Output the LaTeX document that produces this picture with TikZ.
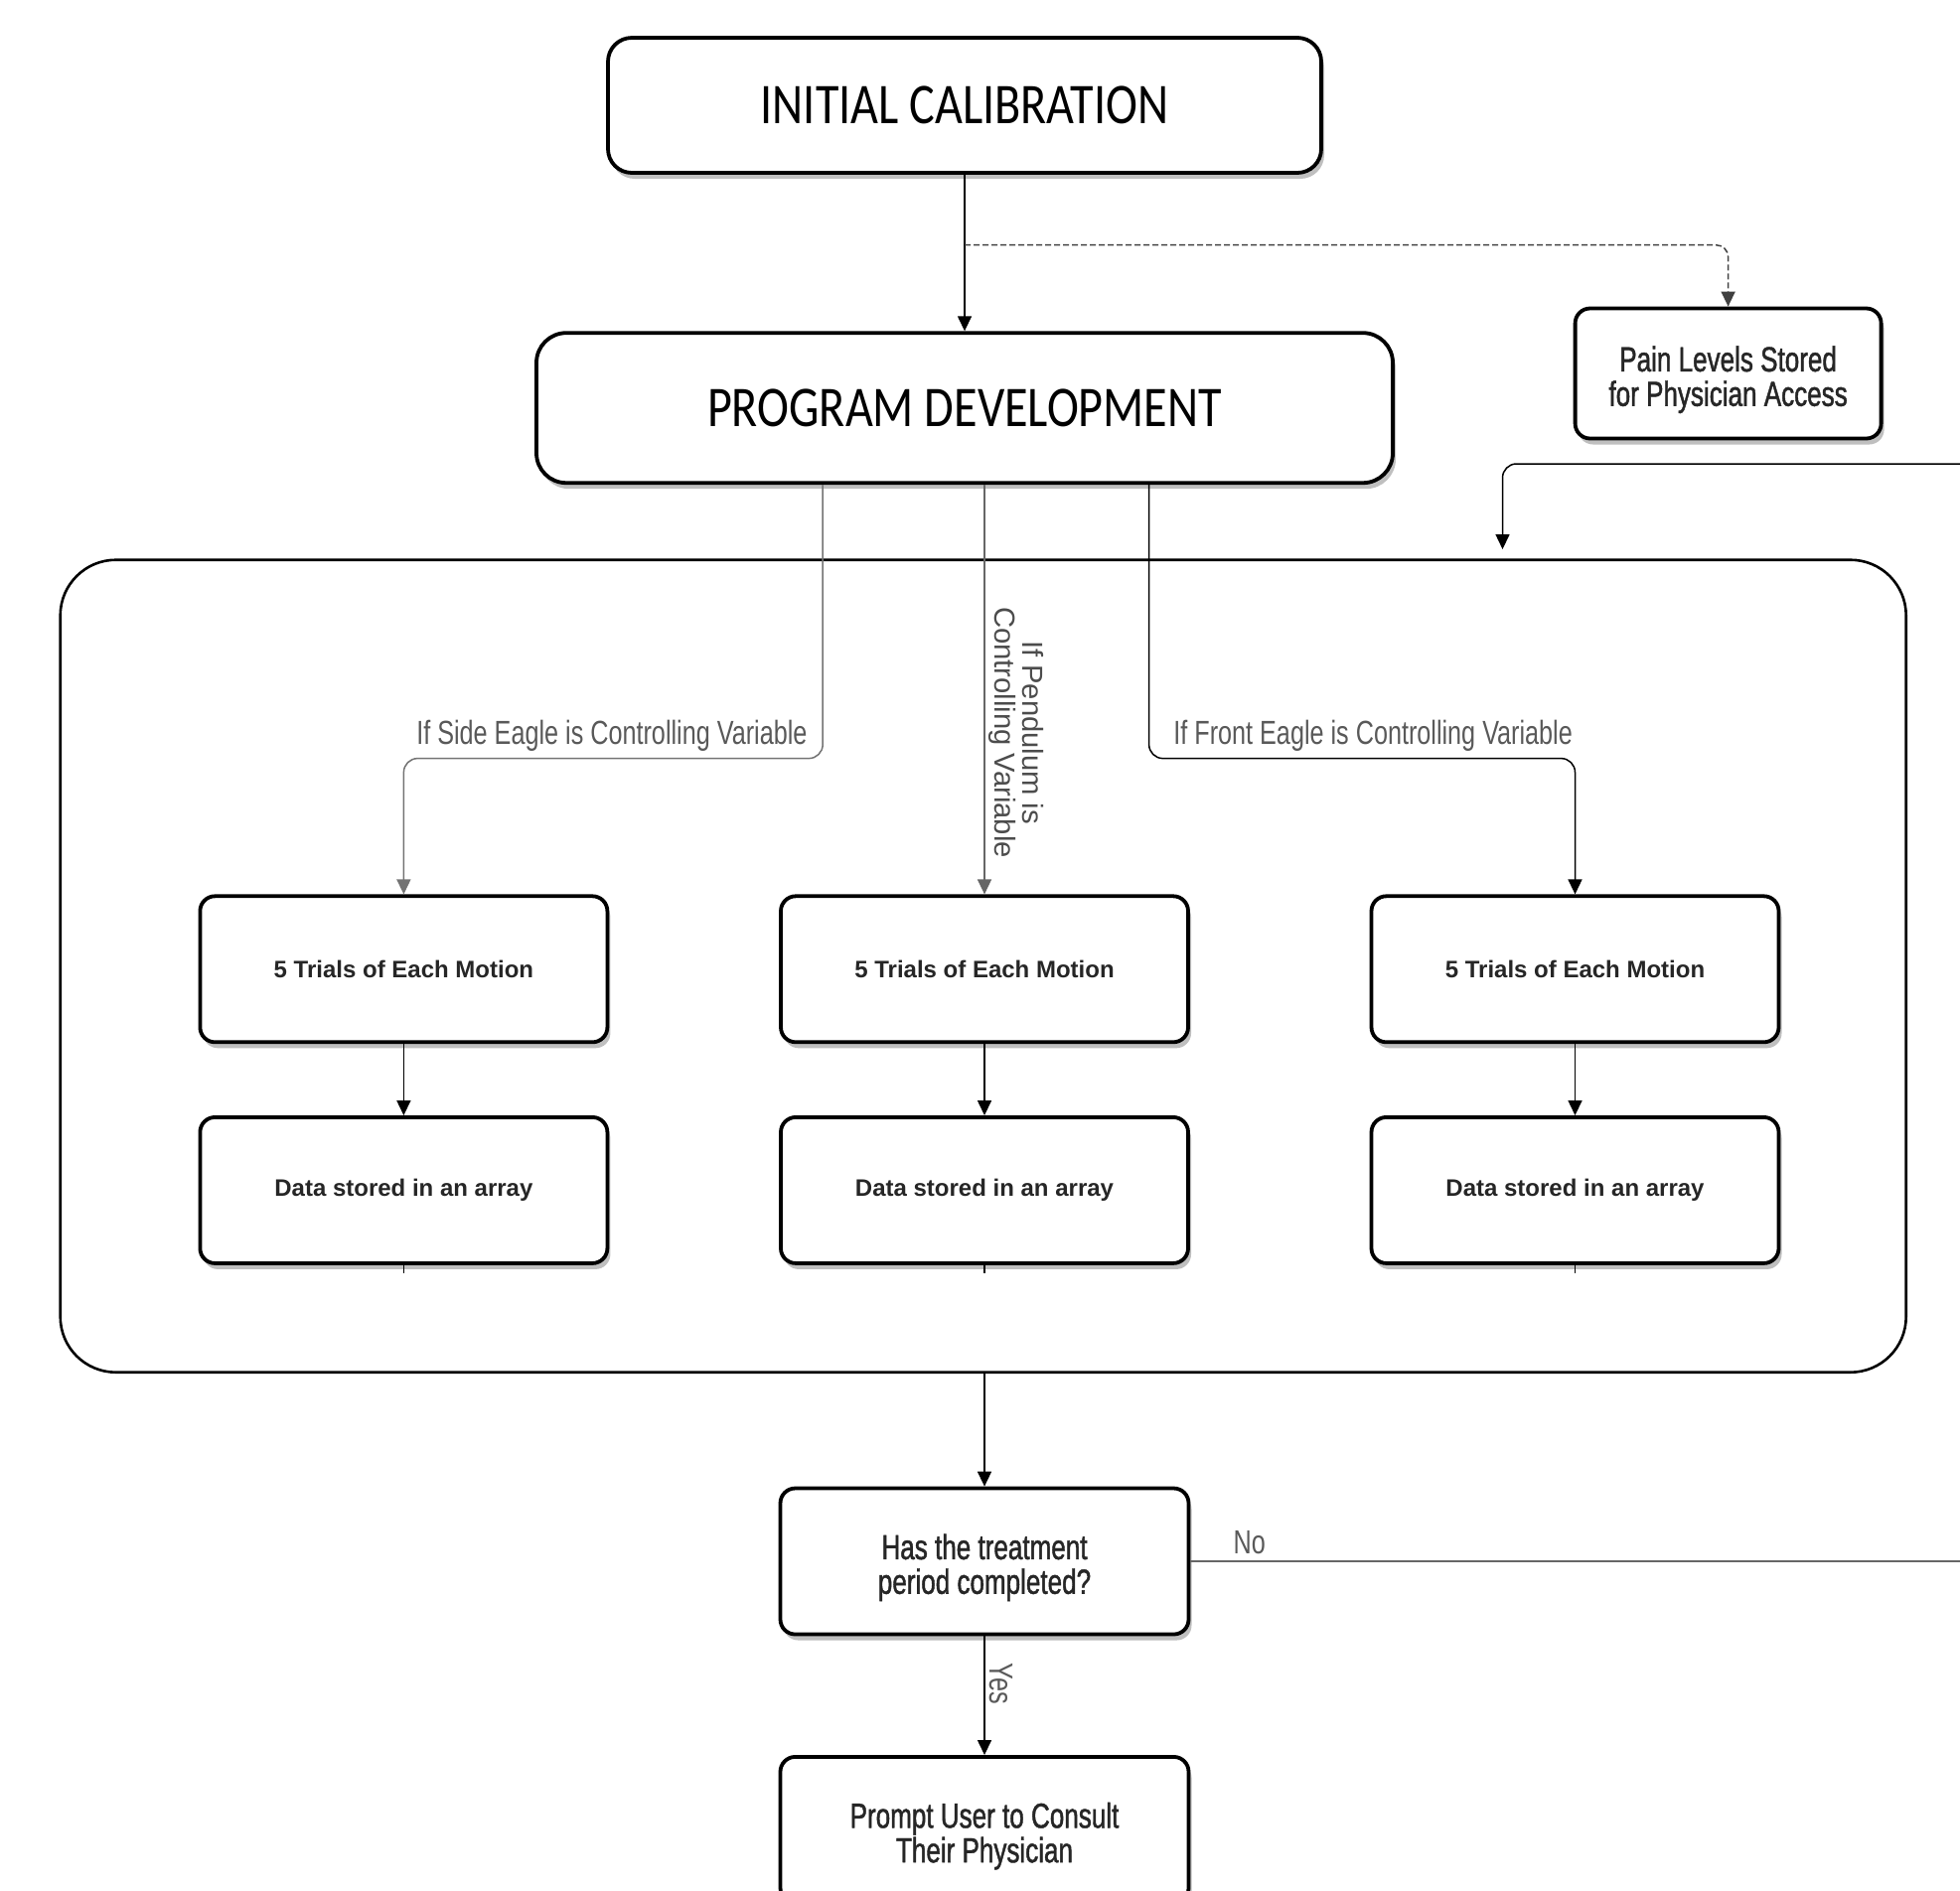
\documentclass[tikz,border=0pt]{standalone}
\usepackage{fontspec}
\setmainfont{Liberation Sans}
\newfontfamily\titlefont[FakeStretch=0.83]{Carlito}
\newfontfamily\narrowfont[FakeStretch=0.75]{Liberation Sans}
\newfontfamily\notefont[FakeStretch=0.74, FakeBold=1.2]{Liberation Sans}
\usetikzlibrary{arrows.meta, positioning, calc, shadows}
\tikzset{
  flow/.style={-{Triangle[length=7.5pt,width=7pt]}, line width=0.75pt},
  basebox/.style={draw, rectangle, rounded corners=7.5pt, line width=1.9pt, fill=white,
    drop shadow={shadow xshift=1.5pt, shadow yshift=-3pt, fill=black!25, opacity=1}},
  titlebox/.style={basebox, font=\titlefont\fontsize{29}{34}\selectfont},
  stepbox/.style={basebox, minimum width=205pt, minimum height=73.5pt,
    font=\bfseries\fontsize{12}{14}\selectfont, text=black!85},
  notebox/.style={basebox, align=center, font=\notefont\fontsize{17.6}{17.4}\selectfont, text=black!85},
  branchlabel/.style={font=\narrowfont\fontsize{16.8}{20}\selectfont, text=black!65, inner sep=1pt},
}
\newcommand{\notestrut}{\rule{0pt}{19pt}}
\begin{document}
\begin{tikzpicture}[x=0.5pt, y=0.5pt]
  \useasboundingbox (0,0) rectangle (1973,-1903);

  % top of the chain
  \node[titlebox, rounded corners=12pt, minimum width=359pt, minimum height=68pt] (initial-calibration) at (971,-106) {INITIAL CALIBRATION};
  \node[titlebox, rounded corners=15pt, minimum width=431pt, minimum height=75.5pt, below=78.7pt of initial-calibration] (program-development) {PROGRAM DEVELOPMENT};
  \node[notebox, minimum width=154pt, minimum height=65.5pt] (pain-levels) at (1739.6,-376) {\notestrut Pain Levels Stored\\for Physician Access};
  \draw[flow] (initial-calibration) -- (program-development);
  \coordinate (pain-branch) at ($(initial-calibration.south)!0.45!(program-development.north)$);
  \draw[flow, dash pattern=on 3pt off 1.5pt, draw=black!75, rounded corners=6pt] (pain-branch) -| (pain-levels);

  % the three trial columns
  \node[draw, rectangle, rounded corners=28pt, line width=1.3pt, minimum width=929pt, minimum height=409pt] (motion-trials) at (989.7,-972.7) {};
  \node[stepbox] (trials-side) at (406.4,-975.8) {5 Trials of Each Motion};
  \node[stepbox] (trials-pendulum) at (991,-975.8) {5 Trials of Each Motion};
  \node[stepbox] (trials-front) at (1585.5,-975.8) {5 Trials of Each Motion};
  \node[stepbox, below=35.9pt of trials-side] (data-side) {Data stored in an array};
  \node[stepbox, below=35.9pt of trials-pendulum] (data-pendulum) {Data stored in an array};
  \node[stepbox, below=35.9pt of trials-front] (data-front) {Data stored in an array};
  \draw[flow] (trials-side) -- (data-side);
  \draw[flow] (trials-pendulum) -- (data-pendulum);
  \draw[flow] (trials-front) -- (data-front);
  \draw[line width=0.75pt] (data-side.south) -- ++(0,-8);
  \draw[line width=0.75pt] (data-pendulum.south) -- ++(0,-8);
  \draw[line width=0.75pt] (data-front.south) -- ++(0,-8);

  \coordinate (side-fork) at ([xshift=-71.4pt]program-development.south);
  \coordinate (front-fork) at ([xshift=92.8pt]program-development.south);
  \draw[flow, draw=black!55, rounded corners=7pt] (side-fork) -- ++(0,-275.5) node[branchlabel, anchor=south east, xshift=-6.5pt, yshift=2pt] {If Side Eagle is Controlling Variable} -| (trials-side.north);
  \draw[flow, draw=black!60] (program-development.south -| trials-pendulum.north) -- node[pos=0.605, rotate=-90, anchor=south, align=center, inner sep=2pt, text=black!70, font=\fontsize{14.6}{14}\selectfont] {If Pendulum is\\Controlling Variable} (trials-pendulum.north);
  \draw[flow, rounded corners=7pt] (front-fork) -- ++(0,-275.5) node[branchlabel, anchor=south west, xshift=11pt, yshift=2pt] {If Front Eagle is Controlling Variable} -| (trials-front.north);

  % end of the treatment
  \node[notebox, minimum width=205.5pt, minimum height=73.5pt] (treatment-check) at (991,-1572) {\notestrut Has the treatment\\period completed?};
  \node[notebox, minimum width=205.5pt, minimum height=73.5pt, below=59.8pt of treatment-check] (consult-physician) {\notestrut Prompt User to Consult\\Their Physician};
  \draw[flow] (motion-trials.south -| treatment-check.north) -- (treatment-check.north);
  \draw[flow] (treatment-check) -- node[pos=0.4, rotate=-90, anchor=south, branchlabel, inner sep=2pt] {Yes} (consult-physician);
  \coordinate (no-exit) at (1990,-1572);
  \draw[line width=0.75pt, draw=black!60] (treatment-check) -- node[pos=0.075, above, branchlabel, inner sep=3pt] {No} (no-exit);
  \coordinate (loop-return) at (1990,-467);
  \coordinate (loop-entry) at (1512.5,-553);
  \draw[flow, rounded corners=7pt] (loop-return) -| (loop-entry);
\end{tikzpicture}
\end{document}
